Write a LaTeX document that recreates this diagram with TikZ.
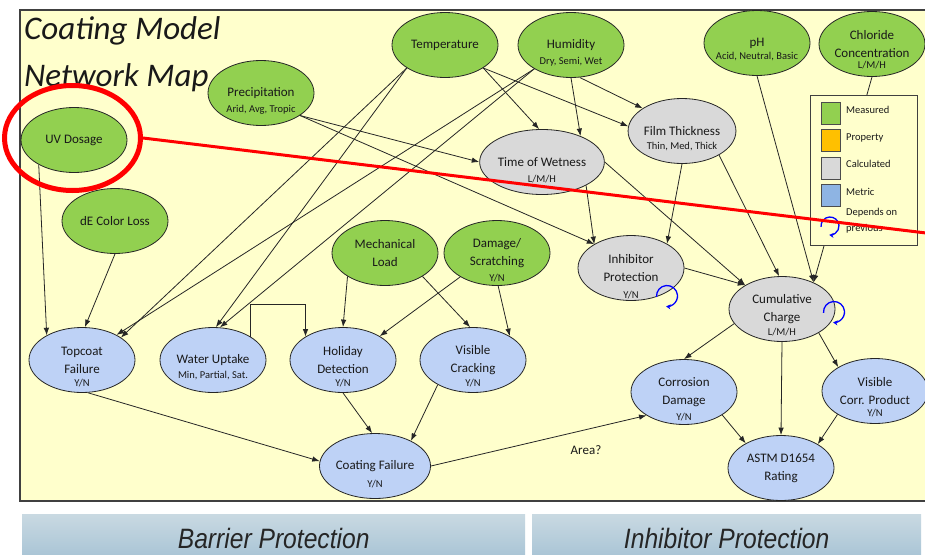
\documentclass[tikz,border=0pt]{standalone}
\usepackage{fontspec}
\setmainfont{Carlito}
\newfontfamily\bannerfont{Liberation Sans}
\usetikzlibrary{shapes.geometric,arrows.meta}
\pgfdeclarelayer{back}\pgfdeclarelayer{edges}\pgfdeclarelayer{front}
\pgfsetlayers{back,edges,main,front}
\definecolor{bgyellow}{HTML}{FFFFCC}
\definecolor{measgreen}{HTML}{92D050}
\definecolor{calcgrey}{HTML}{D9D9D9}
\definecolor{metricblue}{HTML}{BED2F6}
\definecolor{metricleg}{HTML}{8EB4E3}
\definecolor{proporange}{HTML}{FFC000}
\definecolor{bantop}{HTML}{C9D9E2}
\definecolor{banbot}{HTML}{A5C2D4}
\definecolor{framegrey}{HTML}{404040}
\begin{document}
\begin{tikzpicture}[x=1pt,y=-1pt,
  nd/.style={ellipse, draw=black!85, line width=0.8pt, minimum width=106pt, minimum height=65pt, inner sep=0pt, align=center, font=\fontsize{13}{18}\selectfont, text=black!90},
  gn/.style={nd, fill=measgreen},
  gy/.style={nd, fill=calcgrey},
  bl/.style={nd, fill=metricblue},
  sub/.style={font=\fontsize{10.5}{12}\selectfont, inner sep=0pt, text=black!90},
  arr/.style={draw=black!85, line width=0.8pt, -{Latex[length=7.5pt,width=5.5pt]}},
  loopy/.style={blue, line width=1.3pt, -{Stealth[length=4.5pt,width=5pt]}},
  legbox/.style={draw=black!70, line width=0.8pt, minimum width=19pt, minimum height=22pt, inner sep=0pt},
  legtxt/.style={font=\fontsize{10.5}{16}\selectfont, anchor=west, inner sep=0pt, align=left, text=black!90},
  banner/.style={top color=bantop, bottom color=banbot, draw=none, anchor=north west, inner sep=0pt, font=\bannerfont\itshape\fontsize{28}{30}\selectfont, text=black!85},
  titlefont/.style={anchor=base west, inner sep=0pt, font=\itshape\fontsize{33}{36}\selectfont, text=black!90}
]
\useasboundingbox (0,0) rectangle (925,554);
\begin{pgfonlayer}{back}
\fill[white] (0,0) rectangle (925,554);
\draw[fill=bgyellow, draw=framegrey, line width=1.2pt] (20,10) rectangle (940,501);
\end{pgfonlayer}

% banners
\node[banner, minimum width=503pt, minimum height=48pt] (barban) at (22,514) {\scalebox{0.88}[1]{Barrier Protection}};
\node[banner, minimum width=389pt, minimum height=48pt] (inhban) at (532,514) {\scalebox{0.88}[1]{Inhibitor Protection}};

% title
\node[titlefont] (t1) at (24,39) {Coating Model};
\node[titlefont] (t2) at (24,86) {Network Map};

% nodes
\node[gn] (temp) at (445,45) {Temperature};
\node[gn] (hum) at (571,45) {Humidity};
\node[sub] (hums) at ([yshift=-17pt]hum.center) {Dry, Semi, Wet};
\node[gn] (ph) at (757,43) {pH};
\node[sub] (phs) at ([yshift=-14pt]ph.center) {Acid, Neutral, Basic};
\node[gn] (chl) at (872,44) {Chloride\\Concentration};
\node[sub] (chls) at ([yshift=-21pt]chl.center) {L/M/H};
\node[gn] (prec) at (261,93) {Precipitation};
\node[sub] (precs) at ([yshift=-17pt]prec.center) {Arid, Avg, Tropic};
\node[gn] (uv) at (74,140) {UV Dosage};
\node[gn] (de) at (115,221) {dE Color Loss};
\node[gy] (tow) at (542,162) {Time of Wetness};
\node[sub] (tows) at ([yshift=-17pt]tow.center) {L/M/H};
\node[gy] (ft) at (682,131) {Film Thickness};
\node[sub] (fts) at ([yshift=-16pt]ft.center) {Thin, Med, Thick};
\node[gy] (inh) at (631,268) {Inhibitor\\Protection};
\node[sub] (inhs) at ([yshift=-27pt]inh.center) {Y/N};
\node[gy] (cc) at (782,309) {Cumulative\\Charge};
\node[sub] (ccs) at ([yshift=-23pt]cc.center) {L/M/H};
\node[gn] (mech) at (385,253) {Mechanical\\Load};
\node[gn] (dam) at (497,253) {Damage/\\Scratching};
\node[sub] (dams) at ([yshift=-25pt]dam.center) {Y/N};
\node[bl] (top) at (82,360) {Topcoat\\Failure};
\node[sub] (tops) at ([yshift=-23pt]top.center) {Y/N};
\node[bl] (wu) at (213,360) {Water Uptake};
\node[sub] (wus) at ([yshift=-16pt]wu.center) {Min, Partial, Sat.};
\node[bl] (hol) at (343,360) {Holiday\\Detection};
\node[sub] (hols) at ([yshift=-23pt]hol.center) {Y/N};
\node[bl] (vc) at (473,360) {Visible\\Cracking};
\node[sub] (vcs) at ([yshift=-23pt]vc.center) {Y/N};
\node[bl] (cf) at (375,466) {Coating Failure};
\node[sub] (cfs) at ([yshift=-18pt]cf.center) {Y/N};
\node[bl] (cd) at (684,392) {Corrosion\\Damage};
\node[sub] (cds) at ([yshift=-25pt]cd.center) {Y/N};
\node[bl] (vcp) at (875,391) {Visible\\Corr. Product};
\node[sub] (vcps) at ([yshift=-22pt]vcp.center) {Y/N};
\node[bl] (astm) at (781,468) {ASTM D1654\\Rating};
\node[font=\fontsize{13}{16}\selectfont, text=black!90] (area) at (586,450) {Area?};

% edges
\begin{pgfonlayer}{edges}
\draw[arr] (temp.-149) -- (top.30);
\draw[arr] (temp.-149) -- (wu.85);
\draw[arr] (hum.-147) -- (top.36);
\draw[arr] (hum.-147) -- (wu.78);
\draw[arr] (temp.-31) -- (tow.95);
\draw[arr] (temp.-31) -- (ft.175);
\draw[arr] (hum.-90) -- (tow.34);
\draw[arr] (hum.-75) -- (ft.150);
\draw[arr] (prec.-30) -- (tow.west);
\draw[arr] (prec.-30) -- (inh.147);
\draw[arr] (tow.-28) -- (inh.147);
\draw[arr] (tow.east) -- (cc.147);
\draw[arr] (ft.south) -- (inh.34);
\draw[arr] (ft.-33) -- (cc.95);
\draw[arr] (ph.south) -- (cc.40);
\draw[arr] (chl.south) -- (cc.40);
\draw[arr] (inh.east) -- (cc.147);
\draw[arr] (cc.-163) -- (cd.north);
\draw[arr] (cc.south) -- (astm.north);
\draw[arr] (cc.-33) -- (vcp.147);
\draw[arr] (cd.-31) -- (astm.145);
\draw[arr] (vcp.-148) -- (astm.33);
\draw[arr] (cf.east) -- (cd.-148);
\draw[arr] (top.-80) -- (cf.175);
\draw[arr] (hol.south) -- (cf.95);
\draw[arr] (vc.-145) -- (cf.35);
\draw[arr] (uv.-145) -- (top.145);
\draw[arr] (de.south) -- (top.85);
\draw[arr] (mech.-148) -- (hol.north);
\draw[arr] (mech.-32) -- (vc.95);
\draw[arr] (dam.-147) -- (hol.33);
\draw[arr] (dam.-88) -- (vc.33);
\draw[arr] (wu.32) -- ([yshift=32pt]wu.32) -| (hol.148);
\end{pgfonlayer}

% self loops
\begin{scope}[shift={(667,296)}, y=1pt]
\draw[loopy] (185:10.5) arc[start angle=185, end angle=-95, radius=10.5];
\end{scope}
\begin{scope}[shift={(834,312)}, y=1pt]
\draw[loopy] (185:10.5) arc[start angle=185, end angle=-95, radius=10.5];
\end{scope}

% legend
\node[draw=black!75, line width=0.9pt, fill=bgyellow, minimum width=107pt, minimum height=150pt, inner sep=0pt] (leg) at (863.5,170) {};
\node[legbox, fill=measgreen] (lm) at (830.5,113) {};
\node[legtxt] (lmt) at (846,110) {Measured};
\node[legbox, fill=proporange] (lp) at (830.5,140.5) {};
\node[legtxt] (lpt) at (846,138) {Property};
\node[legbox, fill=calcgrey] (lc) at (830.5,168) {};
\node[legtxt] (lct) at (846,164) {Calculated};
\node[legbox, fill=metricleg] (lmet) at (830.5,195.5) {};
\node[legtxt] (lmett) at (846,192) {Metric};
\node[legtxt] (ldt) at (846,221) {Depends on\\previous};
\begin{scope}[shift={(830,226)}, y=1pt]
\draw[loopy] (185:9) arc[start angle=185, end angle=-95, radius=9];
\end{scope}

% red annotation
\begin{pgfonlayer}{front}
\node[ellipse, draw=red, line width=5pt, minimum width=136pt, minimum height=105pt, inner sep=0pt] (redring) at (72.5,138) {};
\coordinate (redend) at (926,233);
\draw[red, line width=3pt] (redring.east) -- (redend);
\end{pgfonlayer}
\end{tikzpicture}
\end{document}
